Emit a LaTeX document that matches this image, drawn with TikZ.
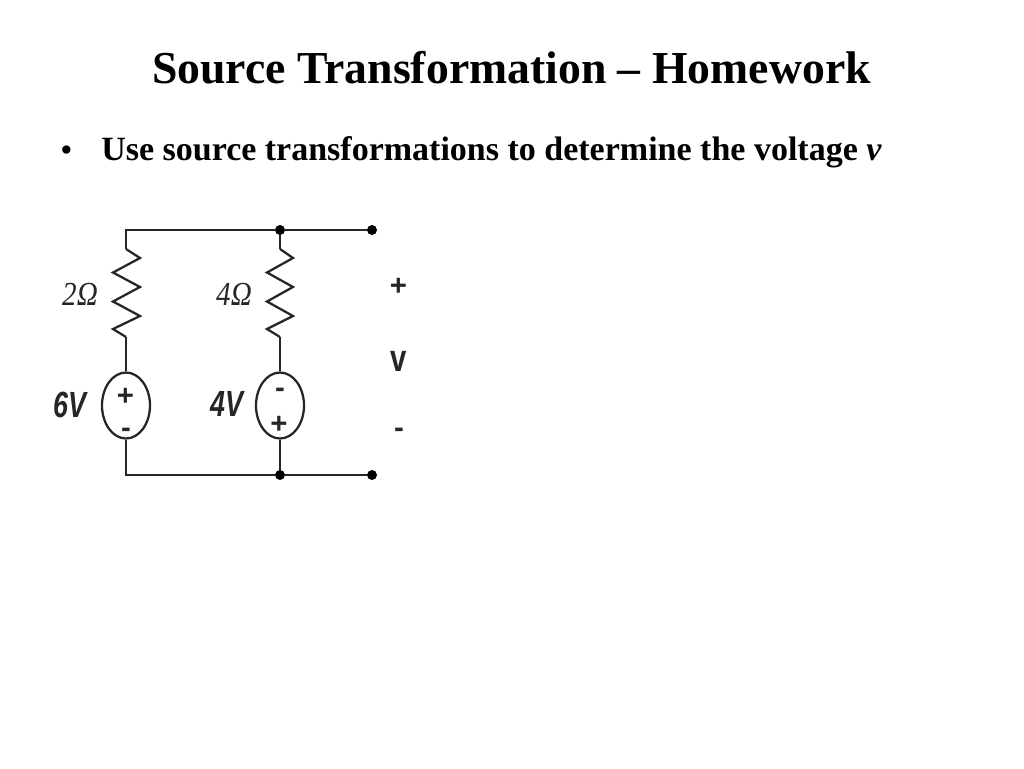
\documentclass[tikz,border=0pt]{standalone}
\usepackage{fontspec}
\setmainfont{Liberation Serif}
\setsansfont{Liberation Sans}
\usetikzlibrary{calc,shapes.geometric}
\newcommand{\tallv}[1]{\scalebox{0.96}[1.3]{#1}}
\newcommand{\tallr}[1]{\scalebox{1.04}[1.2]{#1}}
\tikzset{
  wire/.style={draw=black!85,line width=2.2pt},
  term/.style={circle,fill=black,inner sep=0pt,minimum size=7.5pt},
  src/.style={ellipse,draw=black!85,line width=1.7pt,fill=white,minimum width=36pt,minimum height=49.5pt,inner sep=0pt},
  res/.style={draw=black!85,line width=1.7pt,line join=miter},
  rlabel/.style={inner sep=0pt,font=\fontsize{21}{21}\selectfont\itshape,text=black!85},
  vlabel/.style={inner sep=0pt,font=\sffamily\bfseries\itshape\fontsize{21}{21}\selectfont,text=black!85},
  pol/.style={inner sep=0pt,font=\sffamily\bfseries\fontsize{22}{22}\selectfont,text=black!85}
}
\begin{document}
\begin{tikzpicture}[x=0.75pt,y=-0.75pt]
\useasboundingbox (0,0) rectangle (1024,768);
\node[inner sep=0pt,font=\bfseries\fontsize{34.3}{34.3}\selectfont] (title) at (511.5,67.5) {Source Transformation – Homework};
\node[inner sep=0pt,anchor=base west,font=\bfseries\fontsize{25.5}{25.5}\selectfont] (bullettext) at (101,160) {Use source transformations to determine the voltage \textit{v}};
\node[inner sep=0pt,anchor=base west,font=\fontsize{26}{26}\selectfont] (bullet) at (60,161) {•};

\coordinate (tl) at (126,230);
\coordinate (bl) at (126,475);
\node[term] (tm) at (280,230) {};
\node[term] (bm) at (280,475) {};
\node[term] (tr) at (372,230) {};
\node[term] (br) at (372,475) {};
\node[src] (s1) at (126,405.5) {};
\node[src] (s2) at (280,405.5) {};
\coordinate (r1t) at (126,249);
\coordinate (r1b) at (126,337);
\coordinate (r2t) at (280,249);
\coordinate (r2b) at (280,337);

\draw[wire] (tr) -- (tm) -- (tl) -- (r1t);
\draw[wire] (br) -- (bm) -- (bl) -- (s1);
\draw[wire] (r1b) -- (s1);
\draw[wire] (tm) -- (r2t);
\draw[wire] (r2b) -- (s2);
\draw[wire] (s2) -- (bm);
\draw[res] (r1t) -- ++(14,9) -- ++(-27,14.5) -- ++(27,14.5) -- ++(-27,14.5) -- ++(27,14.5) -- ++(-27,13) -- (r1b);
\draw[res] (r2t) -- ++(13,9) -- ++(-26,14.5) -- ++(26,14.5) -- ++(-26,14.5) -- ++(26,14.5) -- ++(-26,13) -- (r2b);

\node[rlabel] (l2) at (80,294) {\tallr{2Ω}};
\node[rlabel] (l4) at (234,294) {\tallr{4Ω}};
\node[vlabel] (l6) at (69.5,405) {\tallv{6V}};
\node[vlabel] (l4v) at (227,404) {\tallv{4V}};
\node[pol] (s1p) at (125.5,397) {+};
\node[pol] (s1m) at (126,433) {-};
\node[pol] (s2m) at (280,393) {-};
\node[pol] (s2p) at (279,425) {+};
\node[pol] (vp) at (398.5,287) {+};
\node[pol] (vv) at (398.5,361) {\scalebox{1}[1.3]{v}};
\node[pol] (vm) at (399,433) {-};
\end{tikzpicture}
\end{document}
